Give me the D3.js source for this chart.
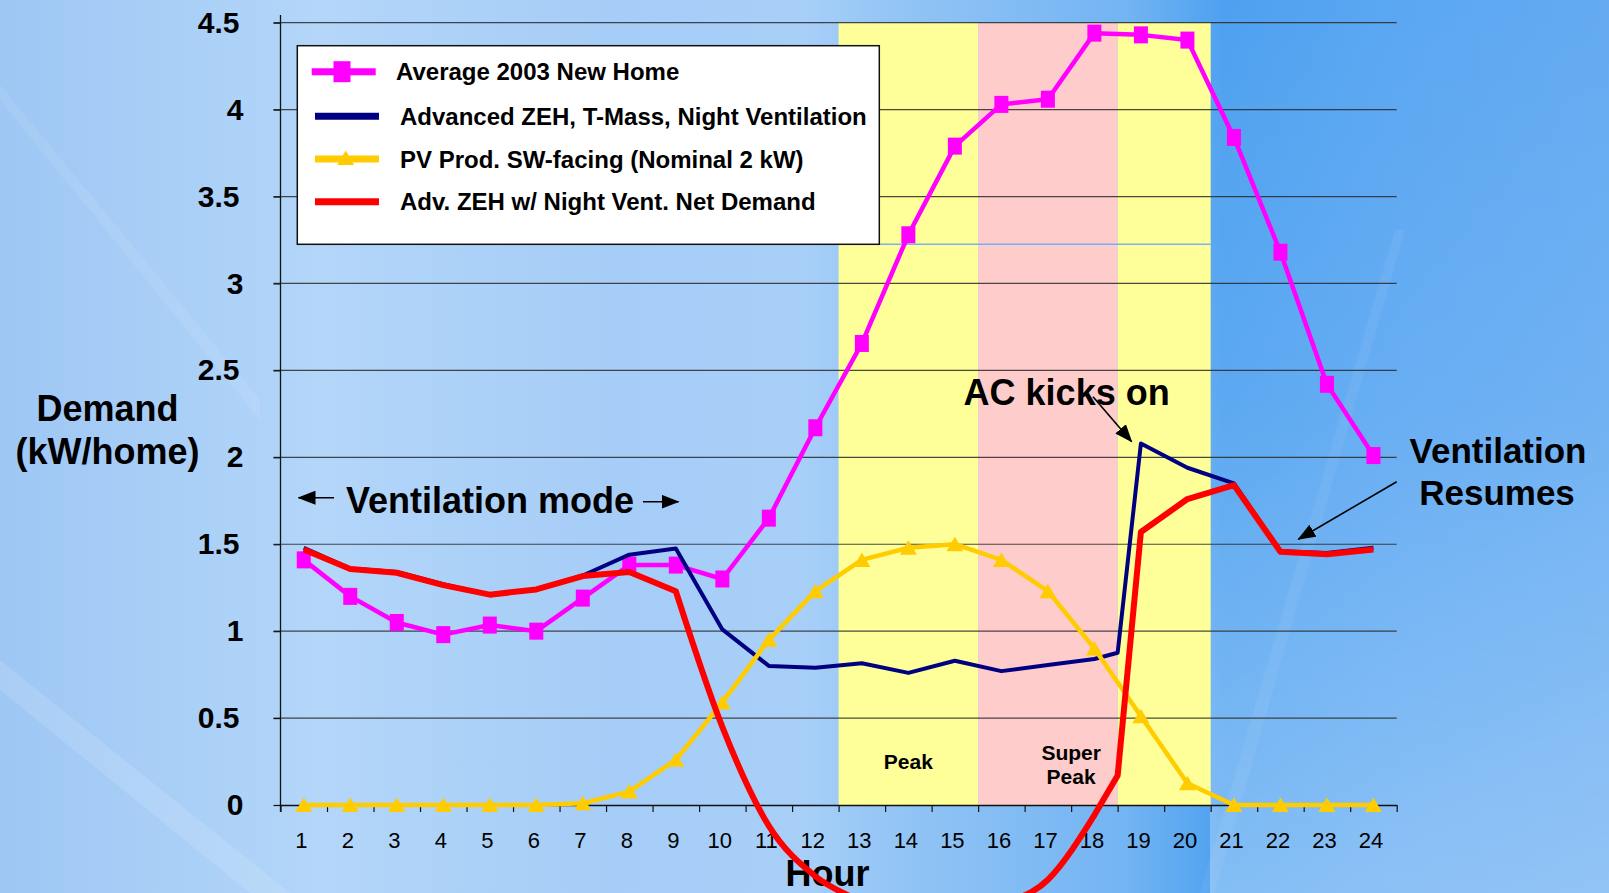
<!DOCTYPE html>
<html>
<head>
<meta charset="utf-8">
<script src="https://cdn.jsdelivr.net/npm/d3@7"></script>
<style>
  html, body { margin: 0; padding: 0; overflow: hidden; }
  svg { display: block; font-family: "Liberation Sans", Arial, sans-serif; }
</style>
</head>
<body>
<svg id="chart" width="1609" height="893"></svg>
<script>
//
// Data
//

// hours of the day
const hours = d3.range(1, 25);
// the two ZEH series have an extra point half way through hour 18
const hoursDetail = [1, 2, 3, 4, 5, 6, 7, 8, 9, 10, 11, 12, 13, 14, 15, 16, 17, 18, 18.5, 19, 20, 21, 22, 23, 24];

const avgNewHome = [1.41, 1.20, 1.05, 0.98, 1.035, 1.00, 1.19, 1.38, 1.38, 1.30, 1.65, 2.17,
  2.655, 3.28, 3.79, 4.03, 4.06, 4.44, 4.43, 4.40, 3.84, 3.18, 2.42, 2.01];
const pvProd = [0, 0, 0, 0, 0, 0, 0.01, 0.077, 0.26, 0.59, 0.95, 1.23,
  1.41, 1.48, 1.50, 1.41, 1.23, 0.90, 0.51, 0.125, 0, 0, 0, 0];
const zehNightVent = [1.48, 1.36, 1.34, 1.27, 1.21, 1.24, 1.32, 1.44, 1.475, 1.01, 0.80, 0.79,
  0.815, 0.76, 0.83, 0.77, 0.805, 0.84, 0.876, 2.08, 1.94, 1.85, 1.46, 1.45, 1.48];
const zehNetDemand = [1.47, 1.357, 1.336, 1.265, 1.21, 1.24, 1.317, 1.34, 1.23, 0.45, -0.12, -0.41,
  -0.56, -0.72, -0.72, -0.58, -0.43, -0.058, 0.17, 1.57, 1.76, 1.84, 1.457, 1.443, 1.47];

const seriesNames = [
  "Average 2003 New Home",
  "Advanced ZEH, T-Mass, Night Ventilation",
  "PV Prod. SW-facing (Nominal 2 kW)",
  "Adv. ZEH w/ Night Vent. Net Demand"
];

const yTicks = [0, 0.5, 1, 1.5, 2, 2.5, 3, 3.5, 4, 4.5];

// time-of-use periods (hour boundaries)
const periodStart = [12.5, 15.5, 18.5];
const periodEnd = [15.5, 18.5, 20.5];

//
// Setup
//

const colorAvg = "#ff00ff";
const colorZeh = "#000080";
const colorPv = "#ffcc00";
const colorNet = "#ff0000";
const periodColors = ["#ffff99", "#ffcccc", "#ffff99"];

const svg = d3.select("#chart");
const width = 1609, height = 893;

const x = d3.scaleLinear().domain([0.5, 24.5]).range([280.5, 1396.7]);
const y = d3.scaleLinear().domain([0, 4.5]).range([805, 22.7]);

const defs = svg.append("defs");

// background
const bg = defs.append("linearGradient").attr("id", "bg").attr("x1", 0).attr("x2", 1).attr("y1", 0).attr("y2", 0);
[[0, "#9ec7f4"], [0.12, "#abd0f7"], [0.2, "#b3d6f9"], [0.38, "#a6cdf7"], [0.5, "#a7cff8"],
 [0.56, "#92c4f5"], [0.7, "#73b4f3"], [0.76, "#4ea1f0"], [0.87, "#5ba7f2"], [1, "#64abf2"]]
  .forEach(s => bg.append("stop").attr("offset", s[0]).attr("stop-color", s[1]));

const fade = defs.append("linearGradient").attr("id", "fade").attr("x1", 0).attr("x2", 0).attr("y1", 0).attr("y2", 1);
fade.append("stop").attr("offset", 0).attr("stop-color", "#fff").attr("stop-opacity", 0);
fade.append("stop").attr("offset", 0.45).attr("stop-color", "#fff").attr("stop-opacity", 0.08);
fade.append("stop").attr("offset", 1).attr("stop-color", "#fff").attr("stop-opacity", 0.3);

svg.append("rect").attr("width", width).attr("height", height).attr("fill", "url(#bg)");
svg.append("rect").attr("x", 1210).attr("width", width - 1210).attr("height", height).attr("fill", "url(#fade)");
// faint lighter streaks in the backdrop
svg.append("path")
  .attr("d", "M0,660 L0,690 L250,893 L290,893 Z")
  .attr("fill", "#fff").attr("opacity", 0.12);
svg.append("path")
  .attr("d", "M0,85 L0,100 L260,420 L260,400 Z")
  .attr("fill", "#fff").attr("opacity", 0.08);
svg.append("path")
  .attr("d", "M1395,230 L1405,230 L1215,893 L1200,893 Z")
  .attr("fill", "#fff").attr("opacity", 0.06);

// arrow head
defs.append("marker")
  .attr("id", "arrow")
  .attr("viewBox", "0 0 18 14")
  .attr("refX", 17).attr("refY", 7)
  .attr("markerUnits", "userSpaceOnUse")
  .attr("markerWidth", 18).attr("markerHeight", 14)
  .attr("orient", "auto")
  .append("path").attr("d", "M0,0 L18,7 L0,14 Z").attr("fill", "#000");

//
// Time-of-use shading
//

svg.append("g").selectAll("rect")
  .data(periodStart)
  .join("rect")
  .attr("x", (d, i) => x(d))
  .attr("y", y(4.5))
  .attr("width", (d, i) => x(periodEnd[i]) - x(d))
  .attr("height", y(0) - y(4.5))
  .attr("fill", (d, i) => periodColors[i]);

// thin blue streak left over on the shading
svg.append("line")
  .attr("x1", 879).attr("x2", x(periodEnd[2]))
  .attr("y1", 244.3).attr("y2", 244.3)
  .attr("stroke", "#78b2f2").attr("stroke-width", 1.5);

//
// Grid and axes
//

svg.append("g").selectAll("line")
  .data(yTicks.filter(d => d > 0))
  .join("line")
  .attr("x1", x(0.5) - 7).attr("x2", x(24.5))
  .attr("y1", d => y(d)).attr("y2", d => y(d))
  .attr("stroke", "#2a2a2a").attr("stroke-opacity", 0.85).attr("stroke-width", 1.2);

const yAxis = svg.append("g")
  .attr("transform", `translate(${x(0.5)},0)`)
  .call(d3.axisLeft(y).tickValues(yTicks).tickSize(7).tickSizeOuter(0).tickPadding(36)
    .tickFormat(d => String(d)));
yAxis.select(".domain").remove();
yAxis.selectAll(".tick line").attr("stroke", "#111").attr("stroke-width", 1.2);
yAxis.selectAll(".tick text")
  .attr("x", d => d % 1 ? -41 : -37)
  .attr("fill", "#000")
  .style("font-size", "30px")
  .style("font-weight", "bold");

// vertical axis line
svg.append("line")
  .attr("x1", x(0.5)).attr("x2", x(0.5))
  .attr("y1", 15).attr("y2", y(0) + 7)
  .attr("stroke", "#111").attr("stroke-width", 1.3);

const xTicks = svg.append("g")
  .attr("transform", `translate(0,${y(0)})`)
  .call(d3.axisBottom(x).tickValues(d3.range(0.5, 25, 1)).tickSize(7).tickSizeOuter(0).tickFormat(""));
xTicks.select(".domain").attr("stroke", "#111").attr("stroke-width", 1.3);
xTicks.selectAll(".tick line").attr("stroke", "#111").attr("stroke-width", 1.2);

const xLabels = svg.append("g")
  .attr("transform", `translate(-3,${y(0)})`)
  .call(d3.axisBottom(x).tickValues(hours).tickSize(0).tickPadding(27).tickFormat(d => String(d)));
xLabels.select(".domain").remove();
xLabels.selectAll(".tick text")
  .attr("fill", "#000")
  .style("font-size", "22px");

// axis title sits under the net demand curve
svg.append("text").attr("x", 827.5).attr("y", 886).attr("text-anchor", "middle")
  .style("font-size", "36px").style("font-weight", "bold").text("Hour");

//
// Series
//

const lineLin = d3.line().x(d => x(d[0])).y(d => y(d[1]));
const lineSmooth = d3.line().curve(d3.curveMonotoneX).x(d => x(d[0])).y(d => y(d[1]));

const avgPts = hours.map((h, i) => [h, avgNewHome[i]]);
const pvPts = hours.map((h, i) => [h, pvProd[i]]);
const zehPts = hoursDetail.map((h, i) => [h, zehNightVent[i]]);
const netPts = hoursDetail.map((h, i) => [h, zehNetDemand[i]]);

// average new home
svg.append("path")
  .attr("d", lineLin(avgPts))
  .attr("fill", "none").attr("stroke", colorAvg).attr("stroke-width", 4.5)
  .attr("stroke-linejoin", "round");
svg.append("g").selectAll("rect")
  .data(avgPts)
  .join("rect")
  .attr("x", d => x(d[0]) - 7).attr("y", d => y(d[1]) - 8.5)
  .attr("width", 14).attr("height", 17)
  .attr("fill", colorAvg);

// advanced ZEH, night ventilation
svg.append("path")
  .attr("d", lineLin(zehPts))
  .attr("fill", "none").attr("stroke", colorZeh).attr("stroke-width", 4)
  .attr("stroke-linejoin", "round");

// PV production
const tri = "M0,-7.5 L8.5,7 L-8.5,7 Z";
svg.append("path")
  .attr("d", lineLin(pvPts))
  .attr("fill", "none").attr("stroke", colorPv).attr("stroke-width", 4.5)
  .attr("stroke-linejoin", "round");
svg.append("g").selectAll("path")
  .data(pvPts)
  .join("path")
  .attr("transform", d => `translate(${x(d[0])},${y(d[1])})`)
  .attr("d", tri)
  .attr("fill", colorPv);

// net demand: straight segments, smoothed through the negative dip
const netA = netPts.filter(d => d[0] <= 9);
const netB = netPts.filter(d => d[0] >= 9 && d[0] <= 18);
const netC = netPts.filter(d => d[0] >= 18);
svg.append("path")
  .attr("d", lineLin(netA) + lineSmooth(netB).replace(/^M/, "L") + lineLin(netC).replace(/^M/, "L"))
  .attr("fill", "none").attr("stroke", colorNet).attr("stroke-width", 6)
  .attr("stroke-linejoin", "round");

//
// Legend
//

const legend = svg.append("g");
legend.append("rect")
  .attr("x", 297.3).attr("y", 45.7).attr("width", 582).attr("height", 198.6)
  .attr("fill", "#fff").attr("stroke", "#111").attr("stroke-width", 1.5);

const legendY = [71.7, 116.3, 159, 201.7];
const legendX0 = [311.7, 315, 315, 315];
const legendTextX = [396, 400, 400, 400];
const legendColors = [colorAvg, colorZeh, colorPv, colorNet];

legend.selectAll("line")
  .data(seriesNames)
  .join("line")
  .attr("x1", (d, i) => legendX0[i]).attr("x2", (d, i) => legendX0[i] + 64)
  .attr("y1", (d, i) => legendY[i]).attr("y2", (d, i) => legendY[i])
  .attr("stroke", (d, i) => legendColors[i]).attr("stroke-width", 7);
legend.append("rect")
  .attr("x", 342 - 8.5).attr("y", legendY[0] - 10.5).attr("width", 17).attr("height", 21)
  .attr("fill", colorAvg);
legend.append("path")
  .attr("transform", `translate(345.7,${legendY[2] - 1})`)
  .attr("d", tri)
  .attr("fill", colorPv);
legend.selectAll("text")
  .data(seriesNames)
  .join("text")
  .attr("x", (d, i) => legendTextX[i])
  .attr("y", (d, i) => legendY[i] + 8.5)
  .style("font-size", "24px").style("font-weight", "bold")
  .text(d => d);

//
// Annotations
//

const notes = svg.append("g").style("font-weight", "bold").attr("fill", "#000");

notes.append("text").attr("x", 107.5).attr("y", 420.7).attr("text-anchor", "middle")
  .style("font-size", "36px").text("Demand");
notes.append("text").attr("x", 107.5).attr("y", 463.5).attr("text-anchor", "middle")
  .style("font-size", "36px").text("(kW/home)");

notes.append("text").attr("x", 346).attr("y", 513.3)
  .style("font-size", "36px").text("Ventilation mode");
notes.append("line").attr("x1", 334).attr("x2", 298.5).attr("y1", 497.7).attr("y2", 497.7)
  .attr("stroke", "#000").attr("stroke-width", 1.6).attr("marker-end", "url(#arrow)");
notes.append("line").attr("x1", 643).attr("x2", 678.5).attr("y1", 501.7).attr("y2", 501.7)
  .attr("stroke", "#000").attr("stroke-width", 1.6).attr("marker-end", "url(#arrow)");

notes.append("text").attr("x", 963.6).attr("y", 405).style("font-size", "36px").text("AC kicks on");
notes.append("line").attr("x1", 1093).attr("y1", 396.7).attr("x2", 1131.7).attr("y2", 441.7)
  .attr("stroke", "#000").attr("stroke-width", 1.6).attr("marker-end", "url(#arrow)");

notes.append("text").attr("x", 1498).attr("y", 463.3).attr("text-anchor", "middle")
  .style("font-size", "35px").text("Ventilation");
notes.append("text").attr("x", 1497).attr("y", 505).attr("text-anchor", "middle")
  .style("font-size", "35px").text("Resumes");
notes.append("line").attr("x1", 1396.7).attr("y1", 481.7).attr("x2", 1298.3).attr("y2", 539.3)
  .attr("stroke", "#000").attr("stroke-width", 1.6).attr("marker-end", "url(#arrow)");

notes.append("text").attr("x", x(14)).attr("y", 769.3).attr("text-anchor", "middle")
  .style("font-size", "21px").text("Peak");
notes.append("text").attr("x", x(17.5)).attr("y", 760).attr("text-anchor", "middle")
  .style("font-size", "21px").text("Super");
notes.append("text").attr("x", x(17.5)).attr("y", 784.3).attr("text-anchor", "middle")
  .style("font-size", "21px").text("Peak");
</script>
</body>
</html>
